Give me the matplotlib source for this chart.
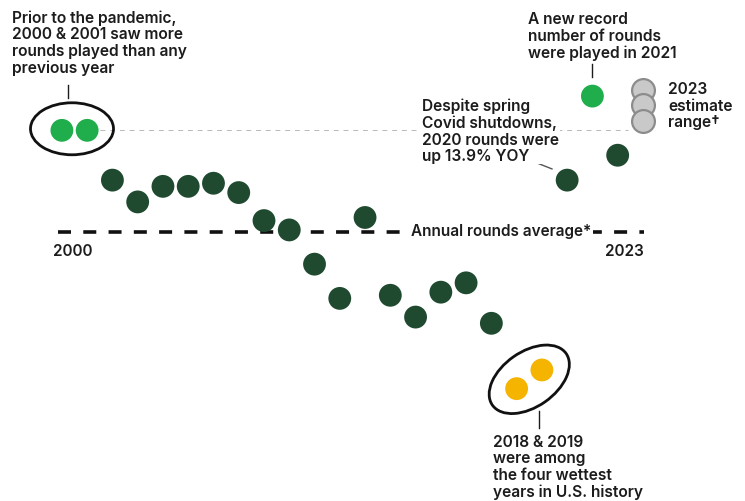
import matplotlib.pyplot as plt
from matplotlib.patches import Ellipse
from matplotlib.transforms import IdentityTransform

plt.rcParams['font.family'] = ['Inter', 'DejaVu Sans']
plt.rcParams['font.weight'] = 600

# rounds of golf played in the U.S., millions
years = list(range(2000, 2023))
rounds = [518, 518, 502, 495, 500, 500, 501, 498, 489, 486, 475, 464,
          490, 465, 458, 466, 469, 456, 435, 441, 502, 529, 510]
est_2023 = [531, 526, 521]
avg_rounds = 485.3

DARK = '#1f4a30'
BRIGHT = '#1fae4b'
YELLOW = '#f4b400'
INK = '#1c1c1c'

colors = []
for y in years:
    if y in (2000, 2001, 2021):
        colors.append(BRIGHT)
    elif y in (2018, 2019):
        colors.append(YELLOW)
    else:
        colors.append(DARK)

fig = plt.figure(figsize=(7.45, 5.02), dpi=100)
ax = fig.add_axes([0, 0, 1, 1])
ax.set_xlim(1997.55, 2027.04)
ax.set_ylim(398.9, 560.2)
ax.axis('off')

# thin guide at the 2000 level
ax.plot([2001.5, 2022.4], [rounds[0], rounds[0]], color='#b8b8b8', lw=0.7,
        dashes=(5, 5), zorder=1)

# average line
ax.plot([1999.85, 2023.05], [avg_rounds, avg_rounds], color='#111111', lw=2.6,
        dashes=(3.6, 3.4), zorder=1)
ax.text(2013.8, avg_rounds + 0.5, 'Annual rounds average*', fontsize=11, color=INK,
        ha='left', va='center', zorder=2,
        bbox=dict(facecolor='white', edgecolor='none', pad=1.5))
ax.text(1999.64, 479.5, '2000', fontsize=11, color=INK, ha='left', va='center')
ax.text(2023.05, 479.5, '2023', fontsize=11, color=INK, ha='right', va='center')

ax.scatter(years, rounds, s=270, c=colors, edgecolors='none', zorder=3)
ax.scatter([2023] * 3, est_2023, s=270, c='#c9c9c9', edgecolors='#8c8c8c',
           linewidths=1.6, zorder=3)


def px(x, y):
    return ax.transData.transform((x, y))


# ring around 2000 & 2001
ax.add_patch(Ellipse(px(2000.4, 518.5), 83, 52, angle=0, fill=False,
                     edgecolor='#111111', lw=2, transform=IdentityTransform()))
# ring around 2018 & 2019
ax.add_patch(Ellipse(px(2018.5, 438), 90, 55, angle=35, fill=False,
                     edgecolor='#111111', lw=2, transform=IdentityTransform()))

ax.plot([2000.24, 2000.24], [532.5, 528.3], color=INK, lw=1)
ax.plot([2021.0, 2021.0], [539.3, 535.1], color=INK, lw=1)
ax.plot([2018.9, 2018.9], [427.8, 422.3], color=INK, lw=1)
ax.plot([2018.53, 2019.4], [508.4, 505.6], color='#555555', lw=1)

note = dict(fontsize=11.2, color=INK, ha='left', va='top', linespacing=1.12)
ax.text(1998.02, 556.9, 'Prior to the pandemic,\n2000 & 2001 saw more\nrounds played than any\nprevious year', **note)
ax.text(2018.45, 556.3, 'A new record\nnumber of rounds\nwere played in 2021', **note)
ax.text(2023.99, 533.8, '2023\nestimate\nrange†', **note)
ax.text(2014.25, 528.4, 'Despite spring\nCovid shutdowns,\n2020 rounds were\nup 13.9% YOY', zorder=2,
        bbox=dict(facecolor='white', edgecolor='none', pad=0.5), **note)
ax.text(2017.06, 420.5, '2018 & 2019\nwere among\nthe four wettest\nyears in U.S. history', **note)

fig.savefig('out.png', dpi=100)
